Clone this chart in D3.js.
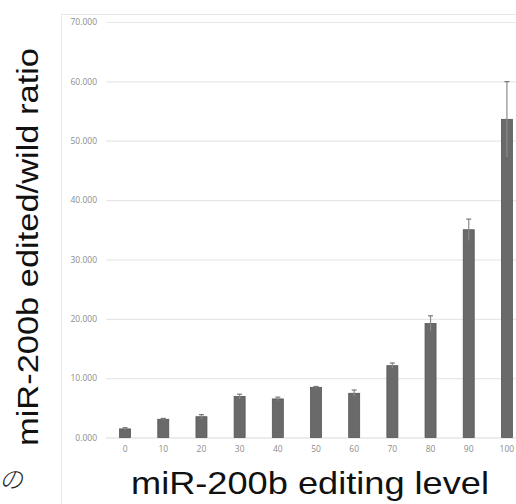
<!DOCTYPE html>
<html>
<head>
<meta charset="utf-8">
<script src="https://cdnjs.cloudflare.com/ajax/libs/d3/7.8.5/d3.min.js"></script>
<style>
  body { margin: 0; background: #fff; }
  svg { display: block; }
</style>
</head>
<body>
<svg id="chart" width="516" height="504"></svg>
<script>
// editing level categories and ratio values
var levels = ["0", "10", "20", "30", "40", "50", "60", "70", "80", "90", "100"];
var ratios = [1.45, 3.07, 3.5, 6.9, 6.5, 8.45, 7.45, 12.1, 19.2, 35.0, 53.6];
var errors = [0.2, 0.15, 0.35, 0.4, 0.3, 0.15, 0.55, 0.45, 1.3, 1.8, 6.35];
var yTicks = [0, 10, 20, 30, 40, 50, 60, 70];

function barChart() {
  var svg = d3.select("#chart");

  var data = levels.map(function (l, i) {
    return { level: l, value: ratios[i], err: errors[i] };
  });

  var x = d3.scaleBand()
    .domain(levels)
    .range([106, 526])
    .paddingInner(0.712)
    .paddingOuter(0.356);

  var y = d3.scaleLinear()
    .domain([0, 70])
    .range([437.5, 22]);

  // chart frame (the plot area box, cut off on the right and bottom)
  svg.append("path")
    .attr("d", "M61.5,504V14.5H516")
    .attr("fill", "none")
    .attr("stroke", "#e6e6e6")
    .attr("stroke-width", 1);

  // gridlines + y tick labels
  var yAxis = d3.axisLeft(y)
    .tickValues(yTicks)
    .tickSize(-(526 - 106))
    .tickPadding(9)
    .tickFormat(d3.format(".3f"));

  var gy = svg.append("g")
    .attr("class", "axis axis--y")
    .attr("transform", "translate(106,0)")
    .call(yAxis);

  gy.select(".domain").remove();
  gy.selectAll(".tick line")
    .attr("stroke", function (d) { return d === 0 ? "#d9d9d9" : "#e8e8e8"; })
    .attr("stroke-width", 1.2);
  gy.selectAll(".tick text")
    .attr("fill", "#8c8c8c")
    .style("font-family", "'Open Sans', sans-serif")
    .style("font-size", "8.5px");

  // x tick labels
  var xAxis = d3.axisBottom(x).tickSize(0).tickPadding(8);
  var gx = svg.append("g")
    .attr("class", "axis axis--x")
    .attr("transform", "translate(0," + y(0) + ")")
    .call(xAxis);
  gx.select(".domain").remove();
  gx.selectAll(".tick text")
    .attr("fill", "#8c8c8c")
    .style("font-family", "'Open Sans', sans-serif")
    .style("font-size", "8.5px");

  // bars
  svg.append("g")
    .selectAll("rect")
    .data(data)
    .enter().append("rect")
    .attr("x", function (d) { return x(d.level); })
    .attr("y", function (d) { return y(d.value); })
    .attr("width", x.bandwidth())
    .attr("height", function (d) { return y(0) - y(d.value); })
    .attr("fill", "#6a6a6a")
    .attr("stroke", "#555")
    .attr("stroke-width", 0.8);

  // error bars
  var eb = svg.append("g")
    .selectAll("g")
    .data(data)
    .enter().append("g")
    .attr("transform", function (d) {
      return "translate(" + (x(d.level) + x.bandwidth() / 2) + ",0)";
    });

  eb.append("line")
    .attr("y1", function (d) { return y(d.value - d.err); })
    .attr("y2", function (d) { return y(d.value + d.err); })
    .attr("stroke", "#8a8a8a")
    .attr("stroke-width", 1.2);

  eb.append("line")
    .attr("x1", -2.5)
    .attr("x2", 2.5)
    .attr("y1", function (d) { return y(d.value + d.err); })
    .attr("y2", function (d) { return y(d.value + d.err); })
    .attr("stroke", "#777")
    .attr("stroke-width", 1.2);

  // axis titles
  svg.append("text")
    .attr("transform", "translate(38,446) rotate(-90)")
    .attr("textLength", 398)
    .attr("lengthAdjust", "spacingAndGlyphs")
    .style("font-family", "'Liberation Sans', Arial, sans-serif")
    .style("font-size", "30px")
    .attr("fill", "#111")
    .text("miR-200b edited/wild ratio");

  svg.append("text")
    .attr("x", 131)
    .attr("y", 494)
    .attr("textLength", 358)
    .attr("lengthAdjust", "spacingAndGlyphs")
    .style("font-family", "'Liberation Sans', Arial, sans-serif")
    .style("font-size", "32px")
    .attr("fill", "#111")
    .text("miR-200b editing level");

  // stray glyph cut off at the left edge
  svg.append("text")
    .attr("x", -1)
    .attr("y", 488)
    .style("font-family", "'Noto Sans CJK JP', sans-serif")
    .style("font-size", "24px")
    .style("font-weight", 300)
    .style("font-style", "italic")
    .attr("fill", "#222")
    .text("の");
}

barChart();
</script>
</body>
</html>
